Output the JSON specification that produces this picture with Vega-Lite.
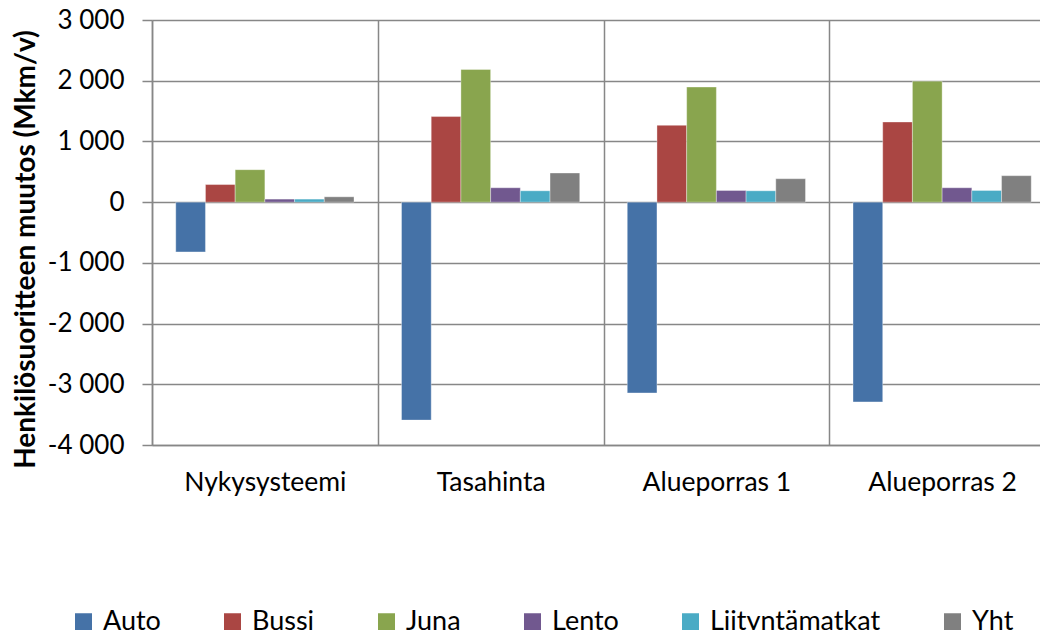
{
  "$schema": "https://vega.github.io/schema/vega-lite/v6.json",
  "autosize": "none",
  "padding": {"left": 152, "top": 20, "right": 0, "bottom": 185},
  "width": 888,
  "height": 425,
  "background": "#ffffff",
  "config": {
    "view": {"stroke": null},
    "font": "Lato",
    "axis": {"labelFont": "Lato", "titleFont": "Lato", "labelColor": "#000000", "titleColor": "#000000"},
    "legend": {"labelFont": "Lato", "labelColor": "#000000"}
  },
  "data": {
    "values": [
      {"skenaario": "Nykysysteemi", "kulkutapa": "Auto", "muutos": -820},
      {"skenaario": "Nykysysteemi", "kulkutapa": "Bussi", "muutos": 290},
      {"skenaario": "Nykysysteemi", "kulkutapa": "Juna", "muutos": 535},
      {"skenaario": "Nykysysteemi", "kulkutapa": "Lento", "muutos": 50},
      {"skenaario": "Nykysysteemi", "kulkutapa": "Liityntämatkat", "muutos": 50},
      {"skenaario": "Nykysysteemi", "kulkutapa": "Yht", "muutos": 88},
      {"skenaario": "Tasahinta", "kulkutapa": "Auto", "muutos": -3590},
      {"skenaario": "Tasahinta", "kulkutapa": "Bussi", "muutos": 1410},
      {"skenaario": "Tasahinta", "kulkutapa": "Juna", "muutos": 2185},
      {"skenaario": "Tasahinta", "kulkutapa": "Lento", "muutos": 237},
      {"skenaario": "Tasahinta", "kulkutapa": "Liityntämatkat", "muutos": 187},
      {"skenaario": "Tasahinta", "kulkutapa": "Yht", "muutos": 480},
      {"skenaario": "Alueporras 1", "kulkutapa": "Auto", "muutos": -3143},
      {"skenaario": "Alueporras 1", "kulkutapa": "Bussi", "muutos": 1265},
      {"skenaario": "Alueporras 1", "kulkutapa": "Juna", "muutos": 1896},
      {"skenaario": "Alueporras 1", "kulkutapa": "Lento", "muutos": 192},
      {"skenaario": "Alueporras 1", "kulkutapa": "Liityntämatkat", "muutos": 187},
      {"skenaario": "Alueporras 1", "kulkutapa": "Yht", "muutos": 386},
      {"skenaario": "Alueporras 2", "kulkutapa": "Auto", "muutos": -3290},
      {"skenaario": "Alueporras 2", "kulkutapa": "Bussi", "muutos": 1320},
      {"skenaario": "Alueporras 2", "kulkutapa": "Juna", "muutos": 1993},
      {"skenaario": "Alueporras 2", "kulkutapa": "Lento", "muutos": 237},
      {"skenaario": "Alueporras 2", "kulkutapa": "Liityntämatkat", "muutos": 192},
      {"skenaario": "Alueporras 2", "kulkutapa": "Yht", "muutos": 436}
    ]
  },
  "mark": {"type": "bar", "stroke": "#ffffff", "strokeOpacity": 0.35, "strokeWidth": 1},
  "encoding": {
    "x": {
      "field": "skenaario",
      "type": "nominal",
      "sort": ["Nykysysteemi", "Tasahinta", "Alueporras 1", "Alueporras 2"],
      "scale": {"range": [0, 903], "paddingInner": 0, "paddingOuter": 0},
      "axis": {
        "title": null,
        "orient": "bottom",
        "labelAngle": 0,
        "labelFontSize": 26.5,
        "labelPadding": 24,
        "ticks": false,
        "domain": true,
        "domainColor": "#878787",
        "domainWidth": 1.5,
        "grid": true,
        "tickBand": "extent",
        "gridColor": "#878787",
        "gridWidth": 1.5
      }
    },
    "xOffset": {
      "field": "kulkutapa",
      "type": "nominal",
      "sort": ["Auto", "Bussi", "Juna", "Lento", "Liityntämatkat", "Yht"],
      "scale": {"paddingInner": 0, "paddingOuter": 0.8}
    },
    "y": {
      "field": "muutos",
      "type": "quantitative",
      "scale": {"domain": [-4000, 3000], "nice": false, "zero": false},
      "axis": {
        "title": "Henkilösuoritteen muutos (Mkm/v)",
        "titleFontSize": 28,
        "titleFontWeight": "bold",
        "titlePadding": 7,
        "titleY": 229,
        "titleAlign": "center",
        "values": [-4000, -3000, -2000, -1000, 0, 1000, 2000, 3000],
        "labelExpr": "datum.value < 0 ? '-' + replace(format(abs(datum.value), ','), ',', ' ') : replace(format(datum.value, ','), ',', ' ')",
        "labelFontSize": 26,
        "labelPadding": 18,
        "tickSize": 10,
        "tickColor": "#878787",
        "tickWidth": 1.5,
        "domainColor": "#878787",
        "domainWidth": 1.5,
        "grid": true,
        "gridColor": "#878787",
        "gridWidth": 1.5
      }
    },
    "color": {
      "field": "kulkutapa",
      "type": "nominal",
      "sort": ["Auto", "Bussi", "Juna", "Lento", "Liityntämatkat", "Yht"],
      "scale": {
        "domain": ["Auto", "Bussi", "Juna", "Lento", "Liityntämatkat", "Yht"],
        "range": ["#4572A7", "#AA4643", "#89A54E", "#71588F", "#4AABC5", "#808080"]
      },
      "legend": {
        "title": null,
        "orient": "none",
        "legendX": -82,
        "legendY": 588,
        "direction": "horizontal",
        "symbolType": "square",
        "symbolSize": 289,
        "symbolStrokeWidth": 0,
        "symbolOpacity": 1,
        "labelFontSize": 27,
        "labelOffset": 6,
        "columnPadding": 58,
        "labelLimit": 300
      }
    }
  }
}
